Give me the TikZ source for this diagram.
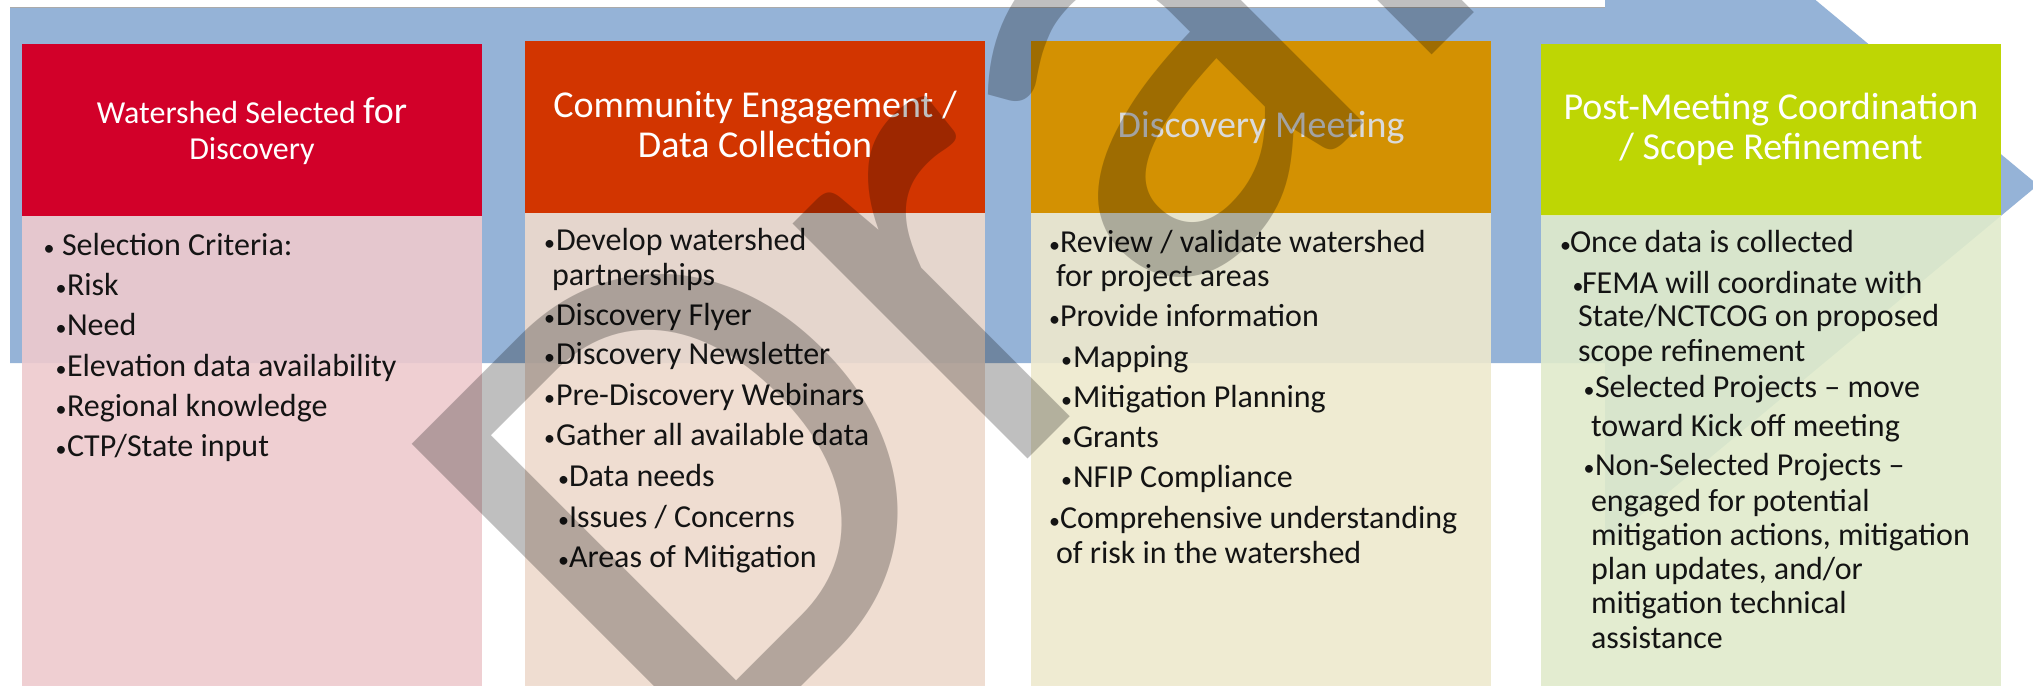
\documentclass[tikz,border=0pt]{standalone}
\usepackage{fontspec}
\setmainfont{Carlito}
\definecolor{arrowblue}{RGB}{149,179,215}
\definecolor{hdA}{RGB}{210,0,41}
\definecolor{hdB}{RGB}{210,53,0}
\definecolor{hdC}{RGB}{211,145,2}
\definecolor{hdD}{RGB}{190,214,4}
\definecolor{bdA}{RGB}{238,202,206}
\definecolor{bdB}{RGB}{238,218,205}
\definecolor{bdC}{RGB}{238,233,206}
\definecolor{bdD}{RGB}{224,235,203}
\definecolor{txt}{RGB}{20,20,20}
\definecolor{topgray}{RGB}{170,170,170}
\definecolor{dimwhite}{RGB}{218,218,218}
\newcommand{\bodyfs}{\fontsize{16}{17.5}\selectfont}
\newcommand{\bulfs}{\fontsize{11}{12}\selectfont}
\newcommand{\headfs}{\fontsize{19}{20}\selectfont}
\newcommand{\smallheadfs}{\fontsize{16}{18}\selectfont}
% bullet line: name, dot centre x, text x, baseline y, text
\newcommand{\bline}[5]{%
  \node[bul] (#1b) at (#2,#4) {•};
  \node[itm] (#1) at (#3,#4) {#5};}
\newcommand{\wline}[4]{\node[itm] (#1) at (#2,#3) {#4};}
\begin{document}
\begin{tikzpicture}[x=0.5pt,y=-0.5pt,
  every node/.style={inner sep=0pt,outer sep=0pt},
  hdr/.style={anchor=north west,minimum width=230pt,minimum height=86pt,draw=none},
  bdy/.style={anchor=north west,minimum width=230pt,minimum height=240pt,draw=none,fill opacity=0.9},
  htxt/.style={anchor=base,text=white,font=\headfs},
  bul/.style={anchor=base,text=txt,font=\bulfs},
  itm/.style={anchor=base west,text=txt,font=\bodyfs},
  wm/.style={anchor=base west,rotate=45,text=black,text opacity=0.25,font=\fontsize{348}{400}\selectfont}]
\useasboundingbox (0,0) rectangle (2033,685);
\clip (0,0) rectangle (2033,685);
\fill[white] (0,0) rectangle (2033,685);
% background arrow
\fill[arrowblue] (10,7) -- (1605,7) -- (1605,-175) -- (2038,185) -- (1605,545)
  -- (1605,363) -- (10,363) -- cycle;
\draw[topgray,line width=0.5pt] (10,7) -- (1605,7);
% headers
\node[hdr,fill=hdA] (h1) at (22,44) {};
\node[hdr,fill=hdB] (h2) at (525,41) {};
\node[hdr,fill=hdC] (h3) at (1031,41) {};
\node[hdr,fill=hdD] (h4) at (1541,44) {};
% bodies
\node[bdy,fill=bdA] (b1) at (22,216) {};
\node[bdy,fill=bdB] (b2) at (525,213) {};
\node[bdy,fill=bdC] (b3) at (1031,213) {};
\node[bdy,fill=bdD] (b4) at (1541,215) {};
% header texts
\node[htxt] (h1a) at (252,123) {\smallheadfs Watershed Selected \headfs for};
\node[htxt] (h1b) at (252,159) {\smallheadfs Discovery};
\node[htxt] (h2a) at (755,117) {Community Engagement /};
\node[htxt] (h2b) at (755,157) {Data Collection};
\node[htxt,text=dimwhite] (h3a) at (1261,137) {Discovery Meeting};
\node[htxt] (h4a) at (1771,119) {Post-Meeting Coordination};
\node[htxt] (h4b) at (1771,159) {/ Scope Refinement};
% box 1
\bline{a1}{49}{62}{255}{Selection Criteria:}
\bline{a2}{61}{67}{295}{Risk}
\bline{a3}{61}{67}{335}{Need}
\bline{a4}{61}{67}{376}{Elevation data availability}
\bline{a5}{61}{67}{416}{Regional knowledge}
\bline{a6}{61}{67}{456}{CTP/State input}
% box 2
\bline{c1}{549.5}{556}{250}{Develop watershed}
\wline{c1w}{552}{285}{partnerships}
\bline{c2}{549.5}{556}{325}{Discovery Flyer}
\bline{c3}{549.5}{556}{364}{Discovery Newsletter}
\bline{c4}{549.5}{556}{405}{Pre-Discovery Webinars}
\bline{c5}{549.5}{556}{445}{Gather all available data}
\bline{c6}{563.5}{569}{486}{Data needs}
\bline{c7}{563.5}{569}{527}{Issues / Concerns}
\bline{c8}{563.5}{569}{567}{Areas of Mitigation}
% box 3
\bline{d1}{1054.5}{1060}{252}{Review / validate watershed}
\wline{d1w}{1056}{286}{for project areas}
\bline{d2}{1054.5}{1060}{326}{Provide information}
\bline{d3}{1066.5}{1073}{367}{Mapping}
\bline{d4}{1066.5}{1073}{407}{Mitigation Planning}
\bline{d5}{1066.5}{1073}{447}{Grants}
\bline{d6}{1066.5}{1073}{487}{NFIP Compliance}
\bline{d7}{1054.5}{1060}{528}{Comprehensive understanding}
\wline{d7w}{1056}{563}{of risk in the watershed}
% box 4
\bline{e1}{1565.5}{1570}{252}{Once data is collected}
\bline{e2}{1578}{1582}{293}{FEMA will coordinate with}
\wline{e2w}{1578}{326}{State/NCTCOG on proposed}
\wline{e2x}{1578}{361}{scope refinement}
\bline{e3}{1589}{1595}{397}{Selected Projects – move}
\wline{e3w}{1591}{436}{toward Kick off meeting}
\bline{e4}{1589}{1595}{475}{Non-Selected Projects –}
\wline{e4w}{1591}{511}{engaged for potential}
\wline{e4x}{1591}{545}{mitigation actions, mitigation}
\wline{e4y}{1591}{579}{plan updates, and/or}
\wline{e4z}{1591}{613}{mitigation technical}
\wline{e4v}{1591}{648}{assistance}
% watermark
\node[wm] (wmk) at (694,793) {Draft};
\end{tikzpicture}
\end{document}
